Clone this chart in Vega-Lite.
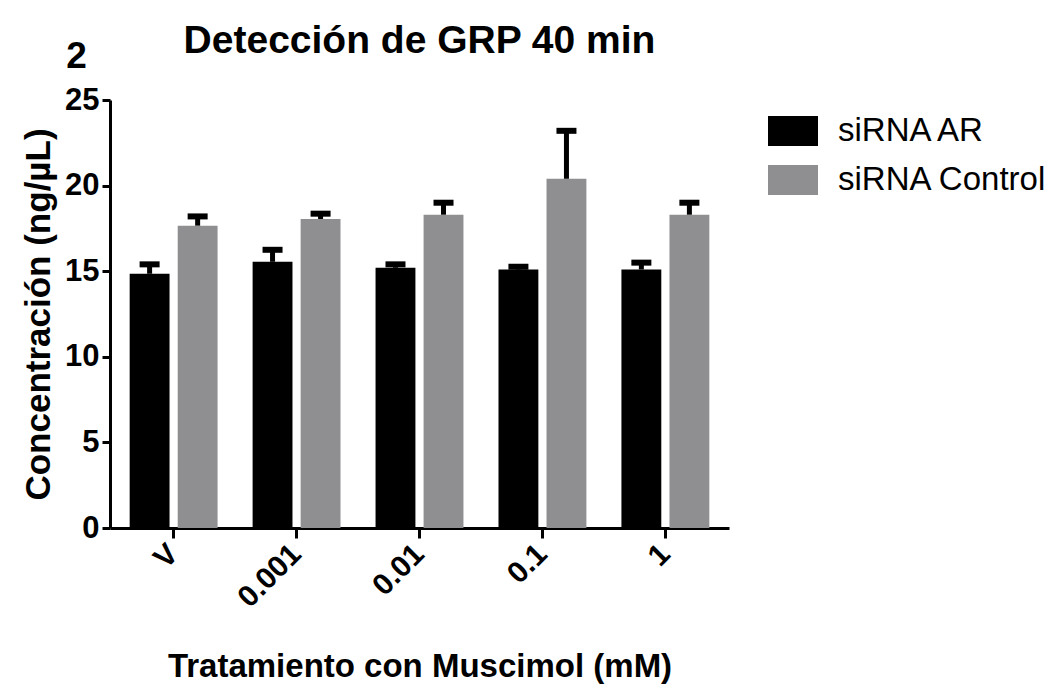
{
  "$schema": "https://vega.github.io/schema/vega-lite/v6.json",
  "autosize": {"type": "none"},
  "padding": {"left": 110, "top": 100, "right": 332, "bottom": 157},
  "width": 619,
  "height": 428,
  "background": "white",
  "title": {"text": "Detección de GRP 40 min", "fontSize": 39, "fontWeight": "bold", "font": "Liberation Sans", "color": "black", "offset": -23, "anchor": "middle"},
  "config": {
    "view": {"stroke": null},
    "font": "Liberation Sans"
  },
  "layer": [
    {
      "data": {"values": [
        {"Tratamiento": "V", "grupo": "siRNA AR", "media": 14.85, "sup": 15.4},
        {"Tratamiento": "V", "grupo": "siRNA Control", "media": 17.66, "sup": 18.2},
        {"Tratamiento": "0.001", "grupo": "siRNA AR", "media": 15.55, "sup": 16.25},
        {"Tratamiento": "0.001", "grupo": "siRNA Control", "media": 18.05, "sup": 18.36},
        {"Tratamiento": "0.01", "grupo": "siRNA AR", "media": 15.2, "sup": 15.4},
        {"Tratamiento": "0.01", "grupo": "siRNA Control", "media": 18.3, "sup": 19.0},
        {"Tratamiento": "0.1", "grupo": "siRNA AR", "media": 15.1, "sup": 15.26},
        {"Tratamiento": "0.1", "grupo": "siRNA Control", "media": 20.4, "sup": 23.2},
        {"Tratamiento": "1", "grupo": "siRNA AR", "media": 15.1, "sup": 15.5},
        {"Tratamiento": "1", "grupo": "siRNA Control", "media": 18.3, "sup": 19.0}
      ]},
      "encoding": {
        "x": {
          "field": "Tratamiento", "type": "nominal",
          "sort": ["V", "0.001", "0.01", "0.1", "1"],
          "scale": {"paddingInner": 0.285, "paddingOuter": 0.16},
          "axis": {
            "title": "Tratamiento con Muscimol (mM)",
            "titleFontSize": 33, "titleFontWeight": "bold", "titleColor": "black", "titlePadding": 38,
            "labelAngle": -45, "labelAlign": "right", "labelBaseline": "middle",
            "labelFontSize": 30, "labelFontWeight": "bold", "labelColor": "black", "labelPadding": 11,
            "domainColor": "black", "domainWidth": 3, "tickColor": "black", "tickWidth": 3, "tickSize": 10
          }
        },
        "xOffset": {"field": "grupo", "type": "nominal", "scale": {"paddingInner": 0.17, "paddingOuter": 0}}
      },
      "layer": [
        {
          "mark": {"type": "bar"},
          "encoding": {
            "y": {
              "field": "media", "type": "quantitative",
              "scale": {"domain": [0, 25], "nice": false},
              "axis": {
                "title": "Concentración (ng/µL)", "values": [0, 5, 10, 15, 20, 25], "grid": false,
                "titleFontSize": 35, "titleFontWeight": "bold", "titleColor": "black", "titlePadding": 8,
                "labelFontSize": 31, "labelFontWeight": "bold", "labelColor": "black", "labelPadding": 3,
                "domainColor": "black", "domainWidth": 3, "tickColor": "black", "tickWidth": 3, "tickSize": 8
              }
            },
            "color": {
              "field": "grupo", "type": "nominal",
              "scale": {"domain": ["siRNA AR", "siRNA Control"], "range": ["#000000", "#8f8f92"]},
              "legend": {
                "title": null, "orient": "none", "legendX": 658, "legendY": 6,
                "symbolType": "M-1,-0.6H1V0.6H-1Z", "symbolSize": 2500, "symbolStrokeWidth": 0, "symbolOpacity": 1,
                "labelFontSize": 33, "labelColor": "black", "labelOffset": 20, "rowPadding": 7,
                "labelLimit": 400
              }
            }
          }
        },
        {
          "mark": {"type": "rule", "color": "black", "strokeWidth": 5},
          "encoding": {
            "y": {"field": "media", "type": "quantitative"},
            "y2": {"field": "sup"}
          }
        },
        {
          "mark": {"type": "tick", "color": "black", "opacity": 1, "size": 20, "thickness": 6, "orient": "horizontal"},
          "encoding": {
            "y": {"field": "sup", "type": "quantitative"}
          }
        }
      ]
    },
    {
      "data": {"values": [{"etiqueta": "2"}]},
      "mark": {"type": "text", "fontSize": 37, "fontWeight": "bold", "color": "black", "align": "center", "baseline": "middle", "dx": -97},
      "encoding": {
        "x": {"datum": "V"},
        "y": {"datum": 27.5},
        "text": {"field": "etiqueta"}
      }
    }
  ]
}
